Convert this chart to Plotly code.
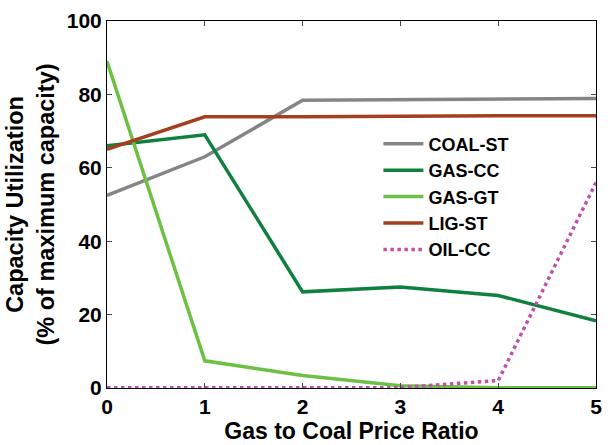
import plotly.graph_objects as go

x_ratio = [0, 1, 2, 3, 4, 5]
coal_st = [52.5, 63.0, 78.4, 78.6, 78.9, 78.9]
gas_cc = [66.0, 69.0, 26.2, 27.5, 25.2, 18.3]
gas_gt = [89.0, 7.4, 3.4, 0.6, 0.1, 0.1]
lig_st = [65.0, 73.9, 73.9, 74.1, 74.2, 74.2]
oil_cc = [0.1, 0.1, 0.1, 0.1, 2.0, 56.0]
x_ticks = [0, 1, 2, 3, 4, 5]
y_ticks = [0, 20, 40, 60, 80, 100]

FONT = "Arial, 'Liberation Sans', sans-serif"

series = [
    ("COAL-ST", coal_st, "#858585", "solid"),
    ("GAS-CC", gas_cc, "#108040", "solid"),
    ("GAS-GT", gas_gt, "#6cc044", "solid"),
    ("LIG-ST", lig_st, "#a3401f", "solid"),
    ("OIL-CC", oil_cc, "#c050b0", "dot"),
]

fig = go.Figure()
for name, vals, color, dash in series:
    fig.add_trace(go.Scatter(x=x_ratio, y=vals, mode="lines", name=name,
                             line=dict(color=color, width=3.5, dash=dash)))

fig.update_layout(
    width=611, height=445,
    margin=dict(l=107, r=9, t=17, b=57),
    plot_bgcolor="white", paper_bgcolor="white",
    font=dict(family=FONT, color="black"),
    legend=dict(x=0.555, y=0.715, xanchor="left", yanchor="top",
                bgcolor="rgba(0,0,0,0)", itemwidth=40,
                font=dict(family=FONT, size=18, color="black", weight="bold"),
                tracegroupgap=0),
    showlegend=True,
)
fig.update_xaxes(range=[0, 5], tickvals=x_ticks, ticks="inside", ticklen=5,
                 showline=True, linecolor="black", linewidth=1, mirror="ticks",
                 showgrid=False, zeroline=False,
                 tickfont=dict(size=21, family=FONT, weight="bold"),
                 title=dict(text="Gas to Coal Price Ratio", standoff=0,
                            font=dict(size=23, family=FONT, weight="bold")))
fig.update_yaxes(range=[0, 100], tickvals=y_ticks, ticks="inside", ticklen=5,
                 showline=True, linecolor="black", linewidth=1, mirror="ticks",
                 showgrid=False, zeroline=False,
                 tickfont=dict(size=21, family=FONT, weight="bold"),
                 title=dict(text="Capacity Utilization<br>(% of maximum capacity)", standoff=5,
                            font=dict(size=23.5, family=FONT, weight="bold")))

fig.write_html("out.html")
